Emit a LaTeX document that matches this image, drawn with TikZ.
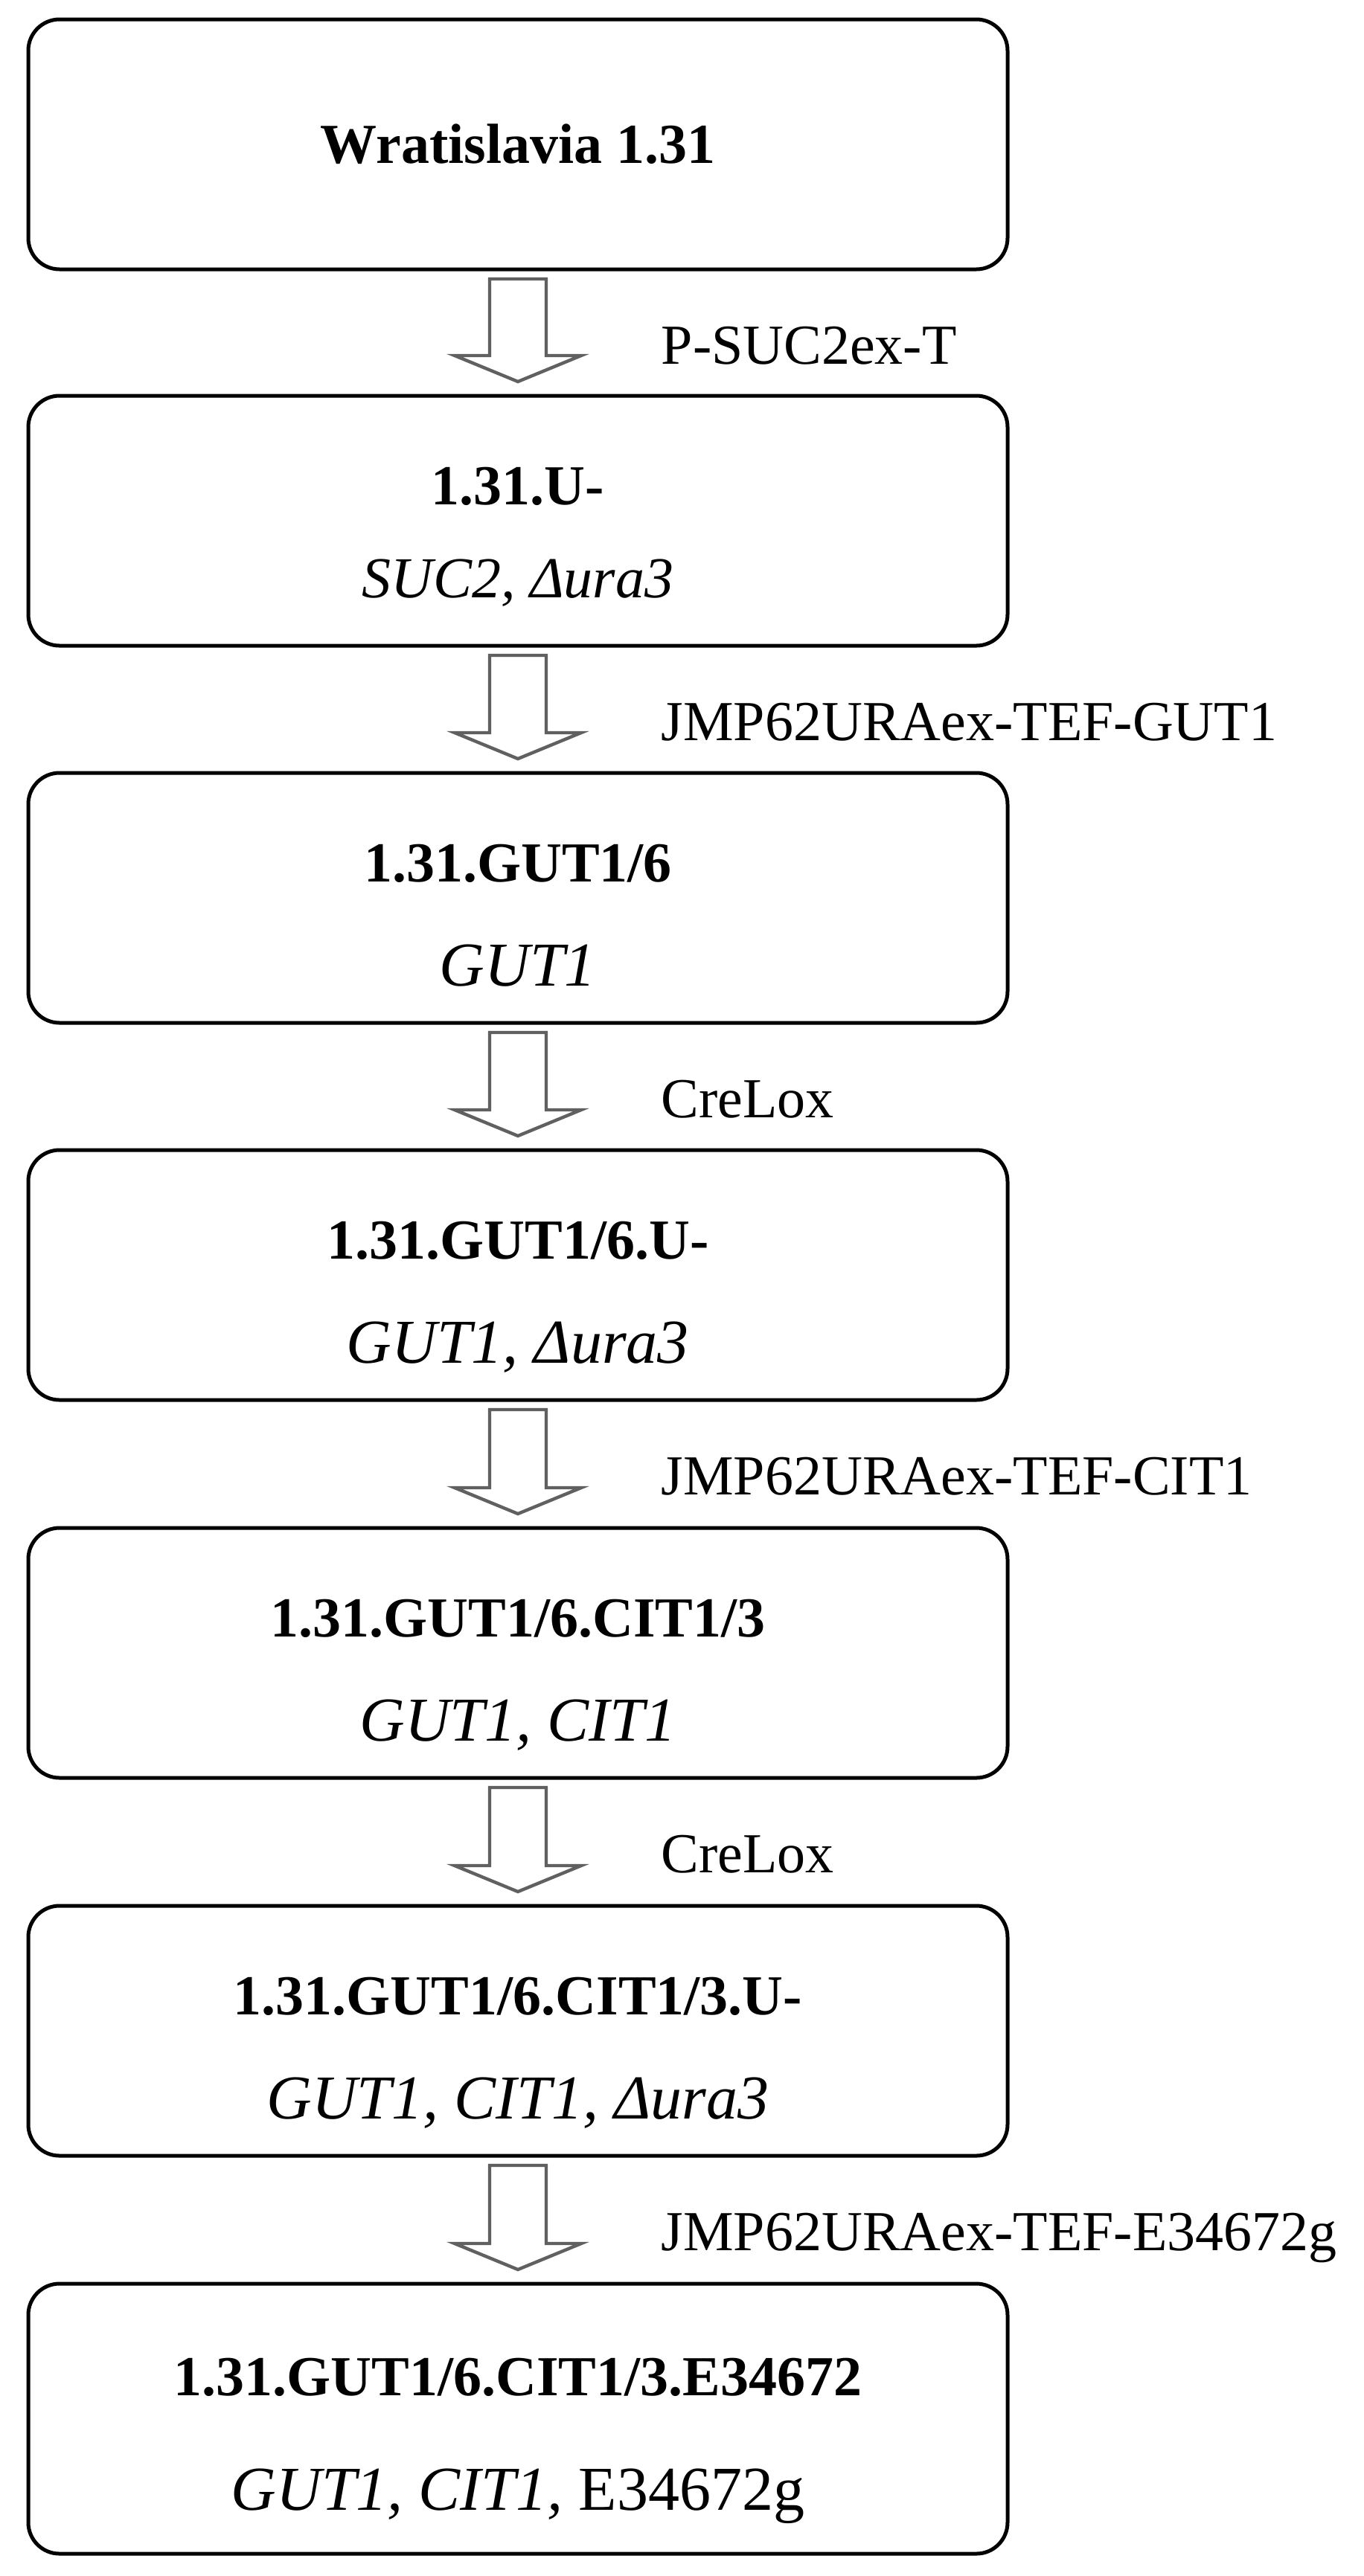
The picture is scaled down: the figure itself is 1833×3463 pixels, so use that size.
\documentclass[tikz,border=0pt]{standalone}
\usepackage{fontspec}
\setmainfont{Liberation Serif}
\usetikzlibrary{calc}
\definecolor{arrowgray}{RGB}{96,96,96}
\tikzset{
 box/.style={draw=black, line width=1.25pt, rounded corners=10.5pt, minimum width=329pt, inner sep=0pt, outer sep=0pt},
 title/.style={inner sep=0pt, anchor=base, font=\fontsize{19}{23}\selectfont\bfseries},
 genes/.style={inner sep=0pt, anchor=base, font=\fontsize{21}{25}\selectfont},
 genessmall/.style={inner sep=0pt, anchor=base, font=\fontsize{19.5}{23}\selectfont},
 steplabel/.style={inner sep=0pt, anchor=base west, font=\fontsize{19}{23}\selectfont},
 blockarrow/.style={draw=arrowgray, fill=white, line width=1.1pt, line join=miter},
}
\newcommand\strainarrow[2]{%
 \draw[blockarrow] ($(#1.south)+(-38,13)$) -- ($(#1.south)+(38,13)$) -- ($(#2.north)+(38,-54)$) -- ($(#2.north)+(85,-54)$) -- ($(#2.north)+(0,-19)$) -- ($(#2.north)+(-85,-54)$) -- ($(#2.north)+(-38,-54)$) -- cycle;}
\begin{document}
\begin{tikzpicture}[x=0.25pt, y=-0.25pt]
\useasboundingbox (0,0) rectangle (1833,3463);
% boxes
\node[box, minimum height=84pt] (b1) at (696,194) {};
\node[box, minimum height=84pt] (b2) at (696,700) {};
\node[box, minimum height=84pt] (b3) at (696,1207) {};
\node[box, minimum height=84pt] (b4) at (696,1714) {};
\node[box, minimum height=84pt] (b5) at (696,2222) {};
\node[box, minimum height=84pt] (b6) at (696,2730) {};
\node[box, minimum height=90.75pt] (b7) at (696,3251.5) {};
% texts
\node[title] (t1) at (696,219) {Wratislavia 1.31};
\node[title] (t2) at (696,678) {1.31.U-};
\node[genessmall] (g2) at (696,803) {\textit{SUC2, Δura3}};
\node[title] (t3) at (696,1185) {1.31.GUT1/6};
\node[genes] (g3) at (696,1325) {\textit{GUT1}};
\node[title] (t4) at (696,1692) {1.31.GUT1/6.U-};
\node[genes] (g4) at (696,1832) {\textit{GUT1, Δura3}};
\node[title] (t5) at (696,2200) {1.31.GUT1/6.CIT1/3};
\node[genes] (g5) at (696,2340) {\textit{GUT1, CIT1}};
\node[title] (t6) at (696,2708) {1.31.GUT1/6.CIT1/3.U-};
\node[genes] (g6) at (696,2848) {\textit{GUT1, CIT1, Δura3}};
\node[title] (t7) at (696,3220) {1.31.GUT1/6.CIT1/3.E34672};
\node[genes] (g7) at (696,3374) {\textit{GUT1, CIT1,} E34672g};
% arrows
\strainarrow{b1}{b2}
\strainarrow{b2}{b3}
\strainarrow{b3}{b4}
\strainarrow{b4}{b5}
\strainarrow{b5}{b6}
\strainarrow{b6}{b7}
% labels
\node[steplabel] (l1) at (888,489) {P-SUC2ex-T};
\node[steplabel] (l2) at (888,995) {JMP62URAex-TEF-GUT1};
\node[steplabel] (l3) at (888,1502) {CreLox};
\node[steplabel] (l4) at (888,2009) {JMP62URAex-TEF-CIT1};
\node[steplabel] (l5) at (888,2517) {CreLox};
\node[steplabel] (l6) at (888,3025) {JMP62URAex-TEF-E34672g};
\end{tikzpicture}
\end{document}
